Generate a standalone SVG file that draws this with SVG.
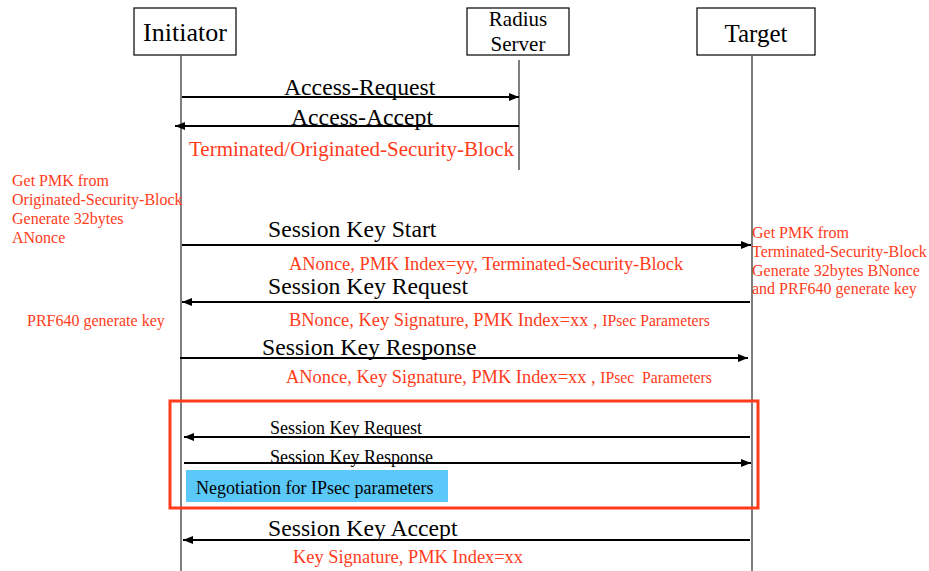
<svg xmlns="http://www.w3.org/2000/svg" width="929" height="571" viewBox="0 0 929 571">
<style>
text{font-family:"Liberation Serif","Times New Roman",serif;}
.box{fill:#fff;stroke:#000;stroke-width:1.2;}
.life{stroke:#555;stroke-width:1.5;fill:none;}
.msg{stroke:#000;stroke-width:2;fill:none;marker-end:url(#ah);}
.big{font-size:23.7px;fill:#000;}
.mid{font-size:18px;fill:#000;}
.red{fill:#FF3B1A;}
.note{font-size:16px;fill:#FF3B1A;}
</style>
<defs>
<marker id="ah" markerUnits="userSpaceOnUse" markerWidth="10" markerHeight="8" refX="10" refY="4" orient="auto">
<path d="M0,0 L10,4 L0,8 z" fill="#000"/>
</marker>
</defs>
<rect width="929" height="571" fill="#fff"/>

<g id="initiator">
<rect class="box" x="134" y="8" width="102" height="47"/>
<text x="185" y="41" font-size="26" text-anchor="middle">Initiator</text>
</g>
<g id="radius">
<rect class="box" x="467" y="8" width="102" height="47"/>
<text x="518" y="26" font-size="21" text-anchor="middle">Radius</text>
<text x="518" y="51" font-size="21" text-anchor="middle">Server</text>
</g>
<g id="target">
<rect class="box" x="697" y="8" width="118" height="47"/>
<text x="756" y="42" font-size="25" text-anchor="middle">Target</text>
</g>

<g id="lifelines">
<line class="life" x1="181" y1="55" x2="181" y2="571"/>
<line class="life" x1="519" y1="60" x2="519" y2="170"/>
<line class="life" x1="752" y1="55" x2="752" y2="571"/>
</g>

<g id="negotiation-frame">
<rect x="170" y="401" width="588" height="107" fill="none" stroke="#FF3B1A" stroke-width="3"/>
<rect x="186" y="470" width="262" height="32" fill="#5BC8FA"/>
<text class="mid" x="196" y="494">Negotiation for IPsec parameters</text>
</g>

<g id="connectors">
<line class="msg" x1="182" y1="97" x2="519" y2="97"/>
<line class="msg" x1="519" y1="126" x2="175" y2="126"/>
<line class="msg" x1="182" y1="245" x2="751" y2="245"/>
<line class="msg" x1="750" y1="302" x2="182" y2="302"/>
<line class="msg" x1="180" y1="358" x2="748" y2="358"/>
<line class="msg" x1="750" y1="437" x2="184" y2="437"/>
<line class="msg" x1="184" y1="463" x2="751" y2="463"/>
<line class="msg" x1="750" y1="540" x2="183" y2="540"/>
</g>

<g id="labels">
<text class="big" x="284" y="95">Access-Request</text>
<text class="big" x="291" y="125">Access-Accept</text>
<text class="red" x="189" y="156" font-size="21">Terminated/Originated-Security-Block</text>
<text class="big" x="268" y="237">Session Key Start</text>
<text class="red" x="289" y="270" font-size="18.4">ANonce, PMK Index=yy, Terminated-Security-Block</text>
<text class="big" x="268" y="294">Session Key Request</text>
<text class="red" x="289" y="326" font-size="18.4">BNonce, Key Signature, PMK Index=xx , <tspan font-size="15.7">IPsec Parameters</tspan></text>
<text class="big" x="262" y="355">Session Key Response</text>
<text class="red" x="286" y="383" font-size="18.4" xml:space="preserve">ANonce, Key Signature, PMK Index=xx , <tspan font-size="15.7">IPsec  Parameters</tspan></text>
<text class="mid" x="270" y="434">Session Key Request</text>
<text class="mid" x="270" y="463">Session Key Response</text>
<text class="big" x="268" y="536">Session Key Accept</text>
<text class="red" x="293" y="563" font-size="18.4">Key Signature, PMK Index=xx</text>
</g>

<g id="initiator-notes">
<text class="note" x="12" y="186">Get PMK from</text>
<text class="note" x="12" y="205">Originated-Security-Block</text>
<text class="note" x="12" y="224">Generate 32bytes</text>
<text class="note" x="12" y="243">ANonce</text>
<text class="note" x="27" y="326">PRF640 generate key</text>
</g>
<g id="target-notes">
<text class="note" x="752" y="238">Get PMK from</text>
<text class="note" x="752" y="257">Terminated-Security-Block</text>
<text class="note" x="752" y="276">Generate 32bytes BNonce</text>
<text class="note" x="752" y="294">and PRF640 generate key</text>
</g>
</svg>
